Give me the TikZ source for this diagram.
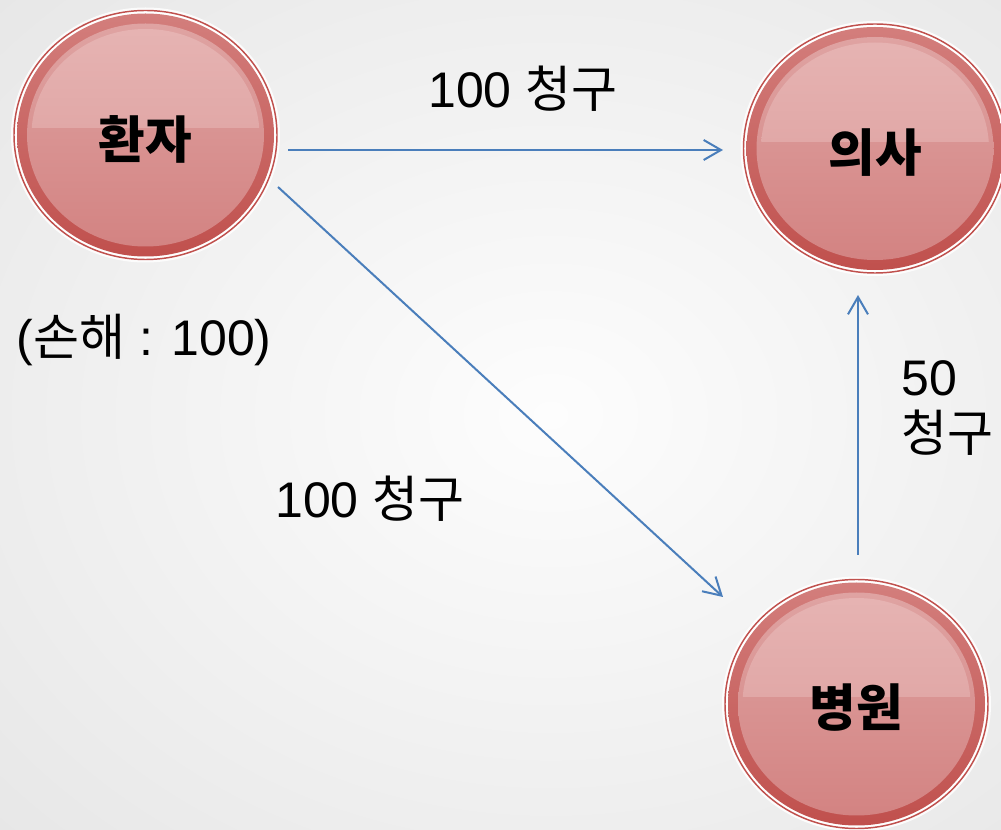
\documentclass[tikz,border=0pt]{standalone}
\usepackage{fontspec}
\setmainfont{Liberation Sans}
\newfontfamily\kr{Noto Sans CJK KR}
\usetikzlibrary{arrows.meta,shapes.geometric,calc}
\definecolor{bgin}{HTML}{FDFDFD}
\definecolor{bgout}{HTML}{E6E6E6}
\definecolor{ringred}{HTML}{C0504D}
\definecolor{ringtop}{HTML}{D37E7C}
\definecolor{ringbot}{HTML}{C0504D}
\definecolor{intop}{HTML}{DFA3A2}
\definecolor{inbot}{HTML}{D38382}
\definecolor{hltop}{HTML}{E7B6B5}
\definecolor{hlbot}{HTML}{E1A8A7}
\definecolor{arrblue}{HTML}{4A7EBB}
\newcommand\K[1]{{\kr #1}}
\newcommand\glossy[4]{%
  \fill[white,opacity=0.85] (#2,#3) ellipse [x radius=134.5, y radius=127.5];
  \filldraw[draw=ringred,line width=1.1pt,fill=white] (#2,#3) ellipse [x radius=131.5, y radius=124.5];
  \shade[top color=ringtop,bottom color=ringbot] (#2,#3) ellipse [x radius=128.5, y radius=121.5];
  \shade[top color=intop,bottom color=inbot] (#2,#3) ellipse [x radius=118.5, y radius=111.5];
  \begin{scope}
    \clip (#2,#3) ellipse [x radius=114, y radius=106];
    \shade[top color=hltop,bottom color=hlbot] (#2-130,#3-130) rectangle (#2+130,#3-7);
  \end{scope}
  \node[circ] (#1) at (#2,#3+4) {#4};
}
\begin{document}
\begin{tikzpicture}[x=0.75pt,y=-0.75pt,
  circ/.style={ellipse,minimum width=198pt,minimum height=187pt,inner sep=0pt,
    font=\kr\bfseries\fontsize{38}{42}\selectfont,text=black},
  lbl/.style={inner sep=0pt,font=\fontsize{37.5}{42}\selectfont,text=black},
  arr/.style={draw=arrblue,line width=1.5pt,-{Straight Barb[length=13pt,width=15pt,line width=1.5pt]}}]
\useasboundingbox (0,0) rectangle (1001,830);
\shade[inner color=bgin,outer color=bgout] (-250,-220) rectangle (1351,1050);

\glossy{hwanja}{145.5}{135}{환자}
\glossy{uisa}{875}{148.5}{의사}
\glossy{byungwon}{856.5}{704}{병원}

\node[lbl,anchor=base west] (l1) at (428,108) {100 \K{청구}};
\node[lbl,anchor=base] (l2) at (144,356) {(\K{손해} : 100)};
\node[lbl,anchor=base west] (l3) at (275,518) {100 \K{청구}};
\node[lbl,anchor=north west,align=left] (l4) at (901,360) {50\\\K{청구}};

\draw[arr] ($(hwanja)+(142.5,11)$) -- ($(uisa)+(-152,-2.5)$);
\draw[arr] ($(hwanja)+(132.5,48)$) -- ($(byungwon)+(-133.5,-111)$);
\draw[arr] ($(byungwon)+(1.5,-153)$) -- ($(uisa)+(-17,142.5)$);
\end{tikzpicture}
\end{document}
